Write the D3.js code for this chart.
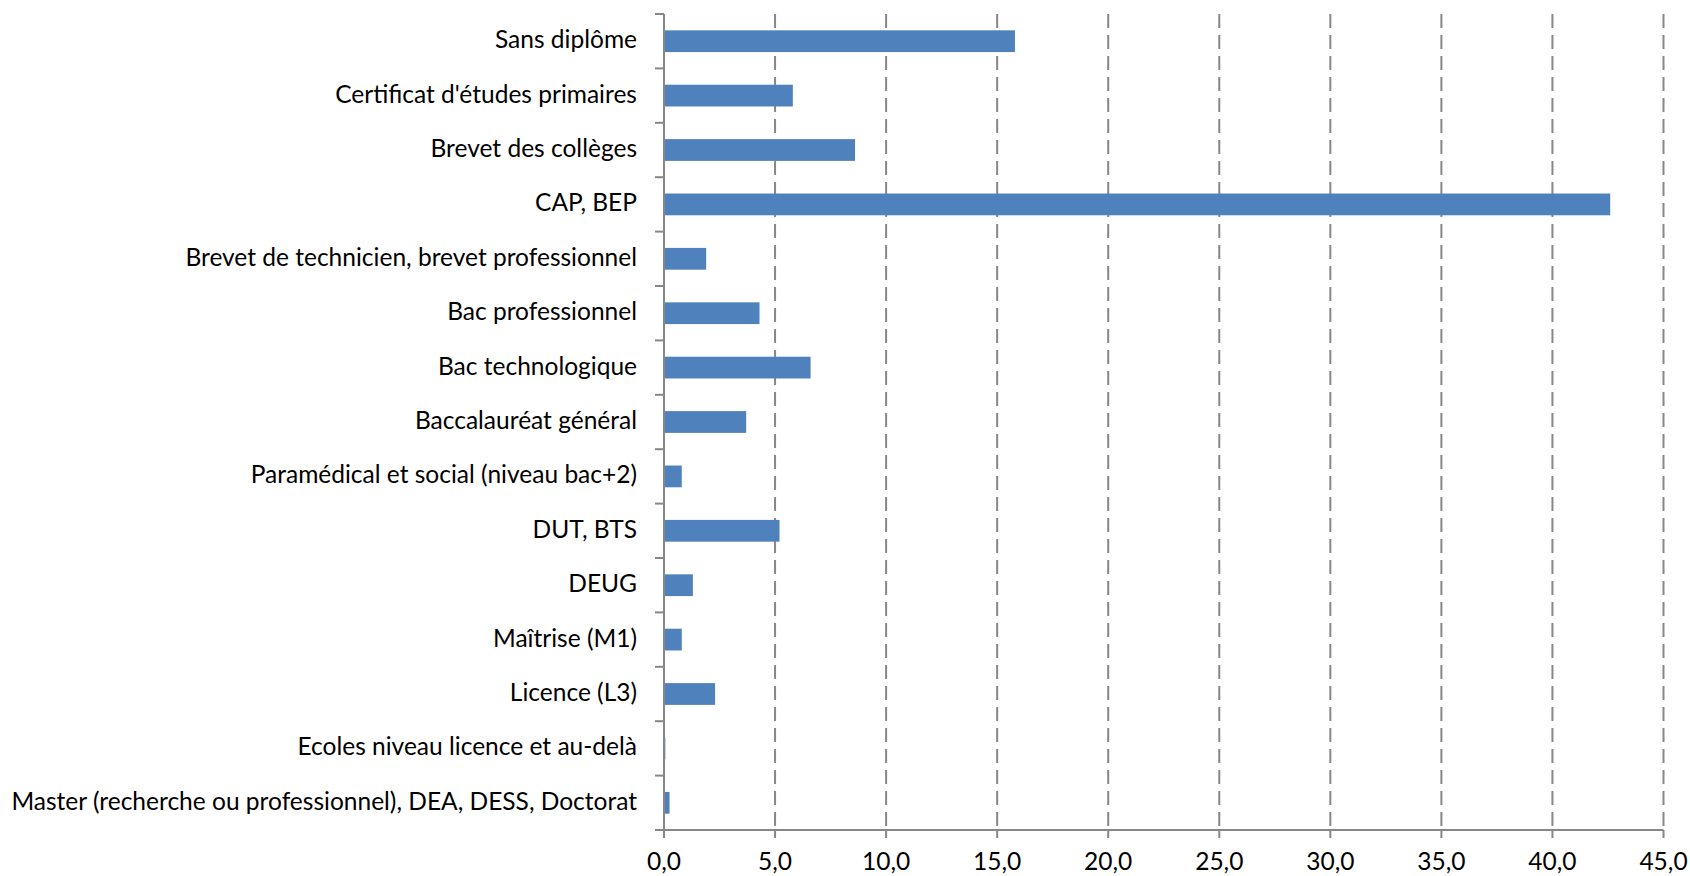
<!DOCTYPE html>
<html><head><meta charset="utf-8">
<script src="https://cdn.jsdelivr.net/npm/d3@7"></script>
<style>
html,body{margin:0;padding:0;background:#fff;}
svg text{font-family:Lato,"Open Sans",sans-serif;fill:#000;}
</style></head>
<body>
<svg id="chart" width="1690" height="876"></svg>
<script>
const categories = [
  "Sans diplôme",
  "Certificat d'études primaires",
  "Brevet des collèges",
  "CAP, BEP",
  "Brevet de technicien, brevet professionnel",
  "Bac professionnel",
  "Bac technologique",
  "Baccalauréat général",
  "Paramédical et social (niveau bac+2)",
  "DUT, BTS",
  "DEUG",
  "Maîtrise (M1)",
  "Licence (L3)",
  "Ecoles niveau licence et au-delà",
  "Master (recherche ou professionnel), DEA, DESS, Doctorat"
];
const values = [15.8, 5.8, 8.6, 42.6, 1.9, 4.3, 6.6, 3.7, 0.8, 5.2, 1.3, 0.8, 2.3, 0.06, 0.25];
const xTicks = [0,5,10,15,20,25,30,35,40,45];
const tickLabels = xTicks.map(v => v.toFixed(1).replace(".", ","));

(function(){
const svg = d3.select("#chart");
const mLeft = 664, mRight = 1663.5, mTop = 14, mBottom = 830;
const fontSize = 22.5;

const x = d3.scaleLinear().domain([0,45]).range([mLeft,mRight]);
const y = d3.scaleBand().domain(categories).range([mTop,mBottom]).paddingInner(0.6).paddingOuter(0.3);

// gridlines
svg.append("g").selectAll("line").data(xTicks.slice(1)).join("line")
  .attr("x1", d=>x(d)).attr("x2", d=>x(d)).attr("y1", mTop).attr("y2", mBottom)
  .attr("stroke", "#878787").attr("stroke-width", 2).attr("stroke-dasharray", "14,7");

// bars
svg.append("g").selectAll("rect").data(values).join("rect")
  .attr("x", x(0)).attr("y", (d,i)=>y(categories[i]))
  .attr("width", d=>x(d)-x(0)).attr("height", y.bandwidth())
  .attr("fill", "#4F81BD");

// y axis
const yStep = (mBottom-mTop)/categories.length;
const yg = svg.append("g");
yg.append("line").attr("x1", mLeft).attr("x2", mLeft).attr("y1", mTop).attr("y2", mBottom)
  .attr("stroke", "#878787").attr("stroke-width", 2);
const yTickPos = d3.range(categories.length+1).map(i => mTop + i*yStep);
yg.selectAll("line.t").data(yTickPos).join("line").attr("class","t")
  .attr("x1", mLeft-9).attr("x2", mLeft).attr("y1", d=>d).attr("y2", d=>d)
  .attr("stroke", "#878787").attr("stroke-width", 2);
const labels = yg.selectAll("text").data(categories).join("text")
  .attr("x", mLeft-27).attr("y", d=>y(d)+y.bandwidth()/2 + 7)
  .attr("text-anchor", "end")
  .style("font-size", fontSize+"px").text(d=>d);

// fit font width to reference
const longest = labels.nodes()[categories.length-1].getComputedTextLength();
const targetW = 626;
const fs = fontSize*targetW/longest;
labels.style("font-size", fs+"px");

// x axis
const xg = svg.append("g");
xg.append("line").attr("x1", mLeft-9).attr("x2", mRight).attr("y1", mBottom).attr("y2", mBottom)
  .attr("stroke", "#878787").attr("stroke-width", 2);
xg.selectAll("line.t").data(xTicks).join("line").attr("class","t")
  .attr("x1", d=>x(d)).attr("x2", d=>x(d)).attr("y1", mBottom).attr("y2", mBottom+8)
  .attr("stroke", "#878787").attr("stroke-width", 2);
xg.selectAll("text").data(xTicks).join("text")
  .attr("x", d=>x(d)).attr("y", 870).attr("text-anchor","middle")
  .style("font-size", fs+"px").text((d,i)=>tickLabels[i]);
})();
</script>
</body></html>
